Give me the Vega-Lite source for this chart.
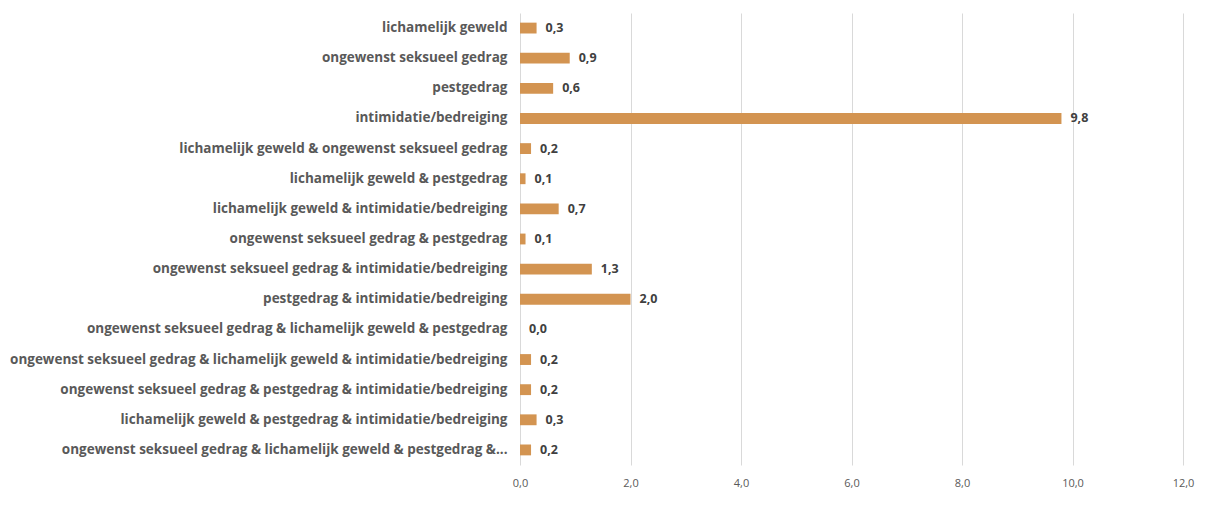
{
  "$schema": "https://vega.github.io/schema/vega-lite/v6.json",
  "autosize": "none",
  "width": 663,
  "height": 452,
  "padding": {"left": 520, "top": 13, "right": 23, "bottom": 42},
  "background": "white",
  "config": {
    "locale": {"number": {"decimal": ",", "thousands": ".", "grouping": [3], "currency": ["€", ""]}},
    "view": {"stroke": null},
    "font": "Open Sans"
  },
  "data": {
    "values": [
      {"categorie": "lichamelijk geweld", "waarde": 0.3},
      {"categorie": "ongewenst seksueel gedrag", "waarde": 0.9},
      {"categorie": "pestgedrag", "waarde": 0.6},
      {"categorie": "intimidatie/bedreiging", "waarde": 9.8},
      {"categorie": "lichamelijk geweld & ongewenst seksueel gedrag", "waarde": 0.2},
      {"categorie": "lichamelijk geweld & pestgedrag", "waarde": 0.1},
      {"categorie": "lichamelijk geweld & intimidatie/bedreiging", "waarde": 0.7},
      {"categorie": "ongewenst seksueel gedrag & pestgedrag", "waarde": 0.1},
      {"categorie": "ongewenst seksueel gedrag & intimidatie/bedreiging", "waarde": 1.3},
      {"categorie": "pestgedrag & intimidatie/bedreiging", "waarde": 2.0},
      {"categorie": "ongewenst seksueel gedrag & lichamelijk geweld & pestgedrag", "waarde": 0.0},
      {"categorie": "ongewenst seksueel gedrag & lichamelijk geweld & intimidatie/bedreiging", "waarde": 0.2},
      {"categorie": "ongewenst seksueel gedrag & pestgedrag & intimidatie/bedreiging", "waarde": 0.2},
      {"categorie": "lichamelijk geweld & pestgedrag & intimidatie/bedreiging", "waarde": 0.3},
      {"categorie": "ongewenst seksueel gedrag & lichamelijk geweld & pestgedrag &...", "waarde": 0.2}
    ]
  },
  "encoding": {
    "y": {
      "field": "categorie",
      "type": "nominal",
      "sort": null,
      "title": null,
      "scale": {"paddingInner": 0.64, "paddingOuter": 0.32},
      "axis": {
        "domain": false,
        "ticks": false,
        "labelPadding": 13,
        "labelFontSize": 13.5,
        "labelFontWeight": "bold",
        "labelColor": "#595959",
        "labelLimit": 600
      }
    },
    "x": {
      "field": "waarde",
      "type": "quantitative",
      "title": null,
      "scale": {"domain": [0, 12], "nice": false},
      "axis": {
        "values": [0, 2, 4, 6, 8, 10, 12],
        "format": ".1f",
        "domain": false,
        "ticks": false,
        "grid": true,
        "gridColor": "#D9D9D9",
        "gridWidth": 1,
        "labelPadding": 12,
        "labelFontSize": 11,
        "labelColor": "#595959",
        "labelFlush": false
      }
    }
  },
  "layer": [
    {"mark": {"type": "bar", "color": "#D39451"}},
    {
      "mark": {"type": "text", "align": "left", "baseline": "middle", "dx": 9, "fontSize": 12.5, "fontWeight": "bold", "color": "#404040"},
      "encoding": {"text": {"field": "waarde", "type": "quantitative", "format": ".1f"}}
    }
  ]
}
